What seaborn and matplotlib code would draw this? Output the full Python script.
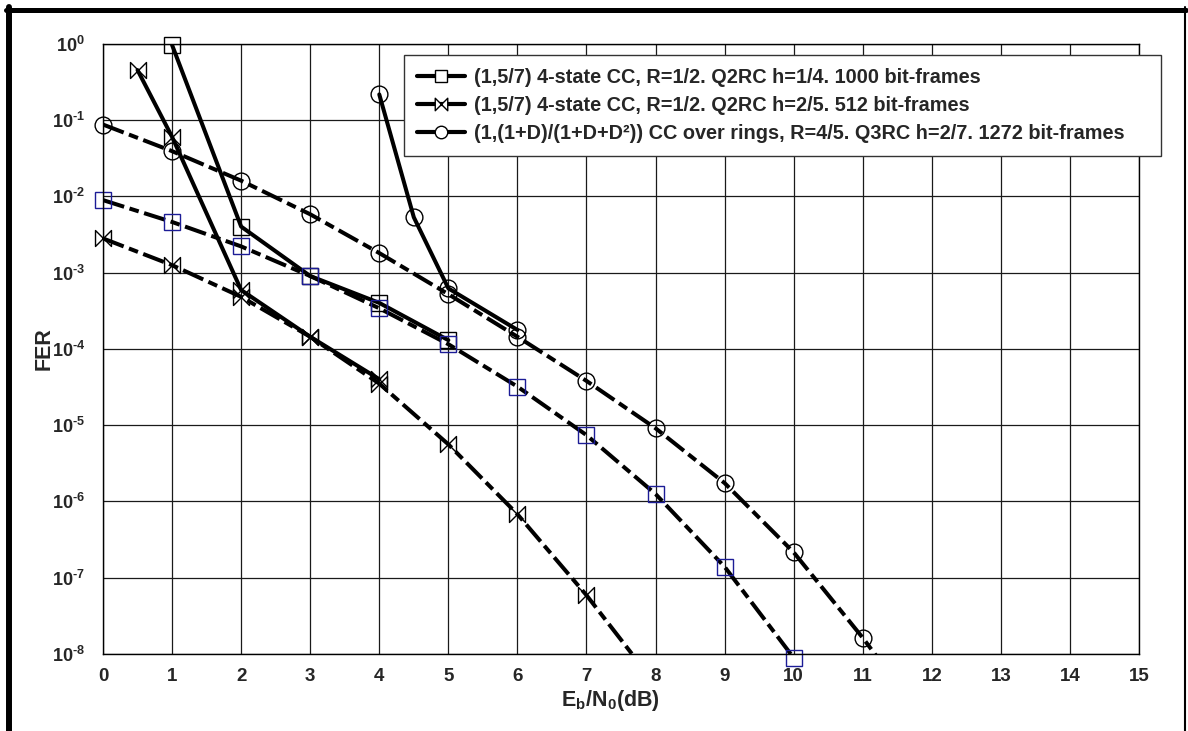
import numpy as np
import pandas as pd
import matplotlib
matplotlib.use('Agg')
import matplotlib.pyplot as plt
import seaborn as sns
from matplotlib.path import Path
from matplotlib.lines import Line2D
from matplotlib.ticker import LogLocator, NullFormatter, MultipleLocator

# --- data ---
ebn0_sq_sim = [1, 2, 3, 4, 5]
fer_sq_sim = [0.96, 4.0e-3, 9.0e-4, 4.0e-4, 1.3e-4]

ebn0_sq_dash = [0, 1, 2, 3, 4, 5, 6, 7, 8, 9, 10]
fer_sq_dash = [8.9e-3, 4.6e-3, 2.2e-3, 9.0e-4, 3.4e-4, 1.15e-4, 3.2e-5, 7.4e-6, 1.25e-6, 1.39e-7, 8.9e-9]

ebn0_bt_sim = [0.5, 1, 2, 3, 4]
fer_bt_sim = [0.45, 0.06, 5.9e-4, 1.44e-4, 4.0e-5]

ebn0_bt_dash = [0, 1, 2, 3, 4, 5, 6, 7, 8]
fer_bt_dash = [2.8e-3, 1.25e-3, 4.8e-4, 1.44e-4, 3.5e-5, 5.6e-6, 6.8e-7, 5.9e-8, 4.0e-9]

ebn0_ci_sim = [4, 4.5, 5, 6]
fer_ci_sim = [0.216, 5.3e-3, 6.2e-4, 1.77e-4]

ebn0_ci_dash = [0, 1, 2, 3, 4, 5, 6, 7, 8, 9, 10, 11, 12]
fer_ci_dash = [0.087, 0.039, 0.016, 5.8e-3, 1.8e-3, 5.2e-4, 1.44e-4, 3.8e-5, 9.1e-6, 1.74e-6, 2.15e-7, 1.63e-8, 1.0e-9]

legend_labels = [
    '(1,5/7) 4-state CC, R=1/2. Q2RC h=1/4. 1000 bit-frames',
    '(1,5/7) 4-state CC, R=1/2. Q2RC h=2/5. 512 bit-frames',
    '(1,(1+D)/(1+D+D\u00b2)) CC over rings, R=4/5. Q3RC h=2/7. 1272 bit-frames',
]
ytick_exps = list(range(-8, 1))

sns.set_style('white')
plt.rcParams['font.family'] = ['Liberation Sans', 'DejaVu Sans']
plt.rcParams['font.weight'] = 'bold'
plt.rcParams['mathtext.fontset'] = 'custom'
plt.rcParams['mathtext.rm'] = 'Liberation Sans:bold'
plt.rcParams['mathtext.it'] = 'Liberation Sans:bold'
plt.rcParams['mathtext.bf'] = 'Liberation Sans:bold'
plt.rcParams['mathtext.default'] = 'rm'

# bowtie marker
bowtie = Path([(-1, 1), (1, -1), (1, 1), (-1, -1), (-1, 1)],
              [Path.MOVETO, Path.LINETO, Path.LINETO, Path.LINETO, Path.CLOSEPOLY])

fig = plt.figure(figsize=(11.88, 7.31), dpi=100)
ax = fig.add_axes([0.0867, 0.1053, 0.8721, 0.835])

blue = '#1c1c96'
dash_pat = (5.5, 1.4, 2.4, 1.4)
lw = 2.9
ms = 11.5
ymin, ymax = 1e-8, 1

series = [
    (ebn0_sq_sim, fer_sq_sim, 's', 'black', None),
    (ebn0_sq_dash, fer_sq_dash, 's', blue, dash_pat),
    (ebn0_bt_sim, fer_bt_sim, bowtie, 'black', None),
    (ebn0_bt_dash, fer_bt_dash, bowtie, 'black', dash_pat),
    (ebn0_ci_sim, fer_ci_sim, 'o', 'black', None),
    (ebn0_ci_dash, fer_ci_dash, 'o', 'black', dash_pat),
]

for xs, ys, mk, mcol, dashes in series:
    df = pd.DataFrame({'ebn0': xs, 'fer': ys})
    # the curve itself, clipped to the axes
    sns.lineplot(data=df, x='ebn0', y='fer', ax=ax, color='black', linewidth=lw,
                 errorbar=None)
    if dashes is not None:
        ax.lines[-1].set_dashes(dashes)
    # the markers, drawn whole even on the frame
    inside = df[df['fer'] >= ymin * 0.8]
    sns.lineplot(data=inside, x='ebn0', y='fer', ax=ax, linestyle='none',
                 marker=mk, markersize=ms if mk != 'o' else ms * 1.05,
                 markerfacecolor='none', markeredgecolor=mcol,
                 markeredgewidth=1.0, errorbar=None)
    ax.lines[-1].set_clip_on(False)

ax.set_yscale('log')
ax.set_xlim(0, 15)
ax.set_ylim(ymin, ymax)
ax.set_xticks(range(0, 16))
ax.xaxis.set_minor_locator(MultipleLocator(0.5))
ax.set_yticks([10.0 ** k for k in ytick_exps])
ax.set_yticklabels([r'$10^{\text{%d}}$' % k for k in ytick_exps])
ax.yaxis.set_minor_locator(LogLocator(base=10, subs=np.arange(2, 10)))
ax.yaxis.set_minor_formatter(NullFormatter())

ax.tick_params(axis='y', which='major', direction='inout', length=6, width=1,
               labelsize=13, pad=10, color='black')
ax.tick_params(axis='y', which='minor', direction='out', length=2.5, width=0.8, color='black')
ax.tick_params(axis='x', which='major', direction='out', length=4, width=1,
               labelsize=13.5, pad=6, color='black')
ax.tick_params(axis='x', which='minor', direction='out', length=3, width=0.8, color='black')
for lab in ax.get_xticklabels() + ax.get_yticklabels():
    lab.set_fontweight('bold')

ax.grid(True, which='major', color='#1a1a1a', linewidth=0.9)
ax.set_axisbelow(True)
for sp in ax.spines.values():
    sp.set_color('black')
    sp.set_linewidth(1.0)

ax.set_xlabel(r'E$_\mathregular{b}$/N$_\mathregular{0}$(dB)', fontsize=15.5,
              fontweight='bold')
ax.xaxis.set_label_coords(0.49, -0.056)
ax.set_ylabel('FER', fontsize=15.5, fontweight='bold')
ax.yaxis.set_label_coords(-0.047, 0.5)

handles = [
    Line2D([], [], color='black', lw=3, marker='s', ms=9, mfc='white', mec='black', mew=1),
    Line2D([], [], color='black', lw=3, marker=bowtie, ms=9, mfc='white', mec='black', mew=1),
    Line2D([], [], color='black', lw=3, marker='o', ms=9, mfc='white', mec='black', mew=1),
]
leg = ax.legend(handles, legend_labels, loc='upper left',
                bbox_to_anchor=(0.2905, 0.5, 0.7307, 0.4813), mode='expand',
                borderaxespad=0, fontsize=14.3, frameon=True, fancybox=False,
                framealpha=1, edgecolor='#333333', handlelength=2.4,
                handletextpad=0.5, labelspacing=0.45, borderpad=0.65)
leg.get_frame().set_linewidth(1.0)
for t in leg.get_texts():
    t.set_fontweight('bold')

# outer frame of the original screenshot
fig.add_artist(Line2D([6 / 1188, 1186 / 1188], [1 - 9.5 / 731, 1 - 9.5 / 731],
                      transform=fig.transFigure, color='black', lw=3.6))
fig.add_artist(Line2D([9 / 1188, 9 / 1188], [0, 1 - 7 / 731],
                      transform=fig.transFigure, color='black', lw=4.3))
fig.add_artist(Line2D([1185 / 1188, 1185 / 1188], [0, 1 - 7 / 731],
                      transform=fig.transFigure, color='black', lw=1.5))

fig.savefig('out.png', dpi=100)
